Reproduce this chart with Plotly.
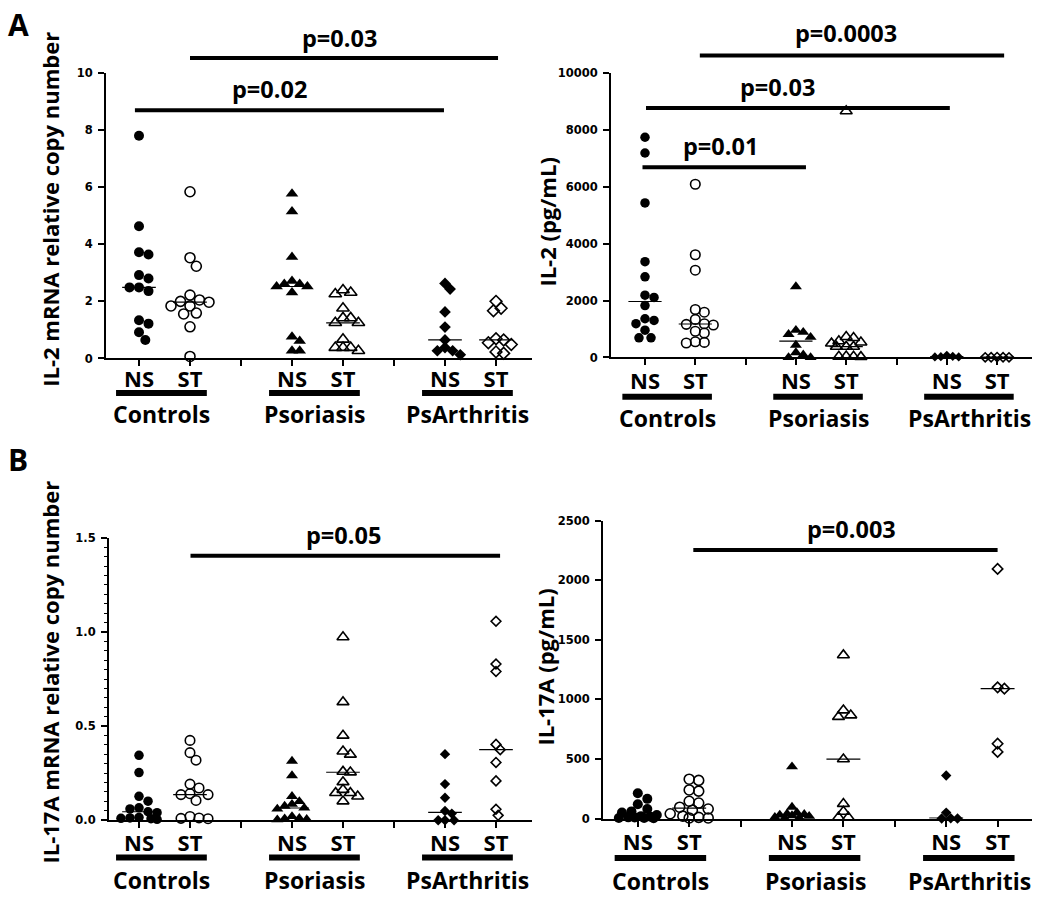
import numpy as np
import plotly.graph_objects as go

W, H = 1050, 904

# ---------------- data ----------------
groups = ["Controls", "Psoriasis", "PsArthritis"]
conditions = ["NS", "ST"]
tick_text = ["NS", "ST", "", "NS", "ST", "", "NS", "ST"]

# Panel A left: IL-2 mRNA relative copy number
il2_mrna_ctrl_ns = [7.8, 4.63, 3.72, 3.64, 2.92, 2.80, 2.49, 2.49, 2.36, 1.34, 1.22, 0.92, 0.65]
il2_mrna_ctrl_st = [5.84, 3.53, 3.23, 2.22, 2.05, 2.00, 1.97, 1.84, 1.84, 1.59, 1.56, 1.11, 0.07]
il2_mrna_pso_ns = [5.77, 5.15, 3.55, 2.71, 2.61, 2.61, 2.52, 2.52, 2.31, 0.76, 0.61, 0.27, 0.27]
il2_mrna_pso_st = [2.40, 2.31, 2.26, 1.76, 1.42, 1.42, 1.25, 1.25, 0.67, 0.38, 0.38, 0.38, 0.27]
il2_mrna_psa_ns = [2.63, 2.43, 1.63, 1.10, 0.65, 0.38, 0.27, 0.27, 0.13]
il2_mrna_psa_st = [2.00, 1.76, 1.67, 0.69, 0.65, 0.55, 0.49, 0.23, 0.18]

# Panel A right: IL-2 (pg/mL)
il2_pg_ctrl_ns = [7733, 7180, 5427, 3364, 2834, 2189, 2109, 1821, 1360, 1303, 1186, 957, 691, 691]
il2_pg_ctrl_st = [6084, 3606, 3065, 1683, 1590, 1337, 1186, 1164, 1140, 922, 860, 553, 530, 510]
il2_pg_pso_ns = [2489, 960, 890, 815, 715, 438, 173, 92, 0, 0]
il2_pg_pso_st = [8650, 726, 691, 577, 530, 494, 380, 380, 380, 40, 30, 30, 20]
il2_pg_psa_ns = [80, 40, 30, 20, 20]
il2_pg_psa_st = [15, 10, 10, 5, 5]

# Panel B left: IL-17A mRNA relative copy number
il17_mrna_ctrl_ns = [0.345, 0.253, 0.127, 0.101, 0.066, 0.060, 0.045, 0.040, 0.015, 0.012, 0.010, 0.008, 0.005]
il17_mrna_ctrl_st = [0.424, 0.359, 0.319, 0.192, 0.171, 0.141, 0.136, 0.136, 0.105, 0.020, 0.012, 0.010, 0.008]
il17_mrna_pso_ns = [0.314, 0.237, 0.127, 0.100, 0.085, 0.075, 0.065, 0.060, 0.020, 0.010, 0.008, 0.005, 0.003]
il17_mrna_pso_st = [0.973, 0.628, 0.450, 0.366, 0.349, 0.258, 0.255, 0.203, 0.162, 0.145, 0.145, 0.127, 0.101]
il17_mrna_psa_ns = [0.351, 0.192, 0.119, 0.049, 0.035, 0.0, 0.0, 0.0]
il17_mrna_psa_st = [1.057, 0.830, 0.790, 0.403, 0.375, 0.307, 0.209, 0.058, 0.026]

# Panel B right: IL-17A (pg/mL)
il17_pg_ctrl_ns = [212, 165, 120, 80, 60, 50, 30, 20, 15, 10, 8, 5, 5, 3]
il17_pg_ctrl_st = [330, 320, 240, 230, 145, 130, 95, 80, 70, 40, 20, 10, 5, 5]
il17_pg_pso_ns = [435, 96, 50, 40, 35, 30, 25, 20, 10, 5, 3]
il17_pg_pso_st = [1371, 909, 867, 854, 498, 124, 58, 10, 10]
il17_pg_psa_ns = [361, 50, 3, 0, 0]
il17_pg_psa_st = [2095, 1101, 1090, 628, 559]

# significance brackets: (from slot, to slot, label)
sig_a_left = [(1, 7, "p=0.03"), (0, 6, "p=0.02")]
sig_a_right = [(1, 7, "p=0.0003"), (0, 6, "p=0.03"), (0, 3, "p=0.01")]
sig_b_left = [(1, 7, "p=0.05")]
sig_b_right = [(1, 7, "p=0.003")]

# ---------------- layout geometry (pixels) ----------------
FONT = "Open Sans"
TICKFONT = "DejaVu Sans"

panels = [
    dict(name="A-left", data=[il2_mrna_ctrl_ns, il2_mrna_ctrl_st, il2_mrna_pso_ns, il2_mrna_pso_st, il2_mrna_psa_ns, il2_mrna_psa_st],
         left=106, right=532, slot0=139, step=51, bottom=357, top=67, yr=[0, 10], ytv=[0, 2, 4, 6, 8, 10], ytt=None,
         title="IL-2 mRNA relative copy number", title_xy=(50, 206), sizes=(10, 10, 11, 11, 9, 9),
         sig=sig_a_left, sig_line=[1.052, 0.869], sig_text=[1.124, 0.945], sig_tx=[3.93, 2.56],
         sig_ext=[(0.0, 0.04), (-0.08, -0.02)], ns_standoff=-6,
         bar_off=35, grp_off=56, minor=None),
    dict(name="A-right", data=[il2_pg_ctrl_ns, il2_pg_ctrl_st, il2_pg_pso_ns, il2_pg_pso_st, il2_pg_psa_ns, il2_pg_psa_st],
         left=611, right=1032, slot0=645, step=50.3, bottom=356, top=66.7, yr=[0, 10000], ytv=[0, 2000, 4000, 6000, 8000, 10000], ytt=None,
         title="IL-2 (pg/mL)", title_xy=(547, 219), sizes=(9.5, 9.5, 10.5, 10.5, 7, 7),
         sig=sig_a_right, sig_line=[1.060, 0.8756, 0.668], sig_text=[1.138, 0.9506, 0.744], sig_tx=[3.99, 2.64, 1.51],
         sig_ext=[(0.09, 0.14), (0.02, 0.06), (-0.05, 0.2)], ns_standoff=-3,
         bar_off=40, grp_off=61, minor=None),
    dict(name="B-left", data=[il17_mrna_ctrl_ns, il17_mrna_ctrl_st, il17_mrna_pso_ns, il17_mrna_pso_st, il17_mrna_psa_ns, il17_mrna_psa_st],
         left=109, right=532, slot0=139, step=51, bottom=826, top=539.3, yr=[0, 1.5], ytv=[0, 0.5, 1.0, 1.5], ytt=["0.0", "0.5", "1.0", "1.5"],
         title="IL-17A mRNA relative copy number", title_xy=(50, 676), sizes=(9.5, 9.5, 10.5, 10.5, 8, 7.5),
         sig=sig_b_left, sig_line=[0.937], sig_text=[1.011], sig_tx=[4.0],
         sig_ext=[(0.01, 0.08)], ns_standoff=-4,
         bar_off=38, grp_off=61, minor=0.05),
    dict(name="B-right", data=[il17_pg_ctrl_ns, il17_pg_ctrl_st, il17_pg_pso_ns, il17_pg_pso_st, il17_pg_psa_ns, il17_pg_psa_st],
         left=603, right=1032, slot0=637.8, step=51.4, bottom=824.3, top=521.7, yr=[0, 2500], ytv=[0, 500, 1000, 1500, 2000, 2500], ytt=None,
         title="IL-17A (pg/mL)", title_xy=(545, 671), sizes=(10, 10, 10.5, 10.5, 8, 8),
         sig=sig_b_right, sig_line=[0.901], sig_text=[0.9726], sig_tx=[4.15],
         sig_ext=[(0.08, 0.0)], ns_standoff=-3,
         bar_off=40, grp_off=63, minor=None),
]

symbols = ["circle", "circle-open", "triangle-up", "triangle-up-open", "diamond", "diamond-open"]
slots = [0, 1, 3, 4, 6, 7]
overlap = {"circle": 0.95, "triangle-up": 0.7, "diamond": 0.85}


def swarm(values, d, ppu, pps, maxw=0.38):
    """beeswarm offsets (in slot units) computed in pixel space"""
    ys = np.asarray(values, float) * ppu
    order = np.argsort(-ys, kind="stable")
    placed = []
    offs = np.zeros(len(ys))
    st = d / 3.0
    maxpx = maxw * pps
    cands = [0.0]
    k = 1
    while k * st <= maxpx:
        cands += [k * st, -k * st]
        k += 1
    for i in order:
        y = ys[i]
        best = None
        bestc, bests = 0.0, -1
        for c in cands:
            md = min([np.hypot(c - px, y - py) for px, py in placed], default=1e9)
            if md >= d:
                best = c
                break
            if md > bests:
                bests, bestc = md, c
        if best is None:
            best = bestc
        offs[i] = best / pps
        placed.append((best, y))
    return offs


def py(p):
    return 1 - p / H


fig = go.Figure()
shapes = []
annotations = []
layout = {}

for idx, P in enumerate(panels):
    n = "" if idx == 0 else str(idx + 1)
    xa, ya = "x" + n, "y" + n
    xr = [(P["left"] - P["slot0"]) / P["step"], (P["right"] - P["slot0"]) / P["step"]]
    ppu = (P["bottom"] - P["top"]) / (P["yr"][1] - P["yr"][0])
    for gi, vals in enumerate(P["data"]):
        sym = symbols[gi]
        base = sym.replace("-open", "")
        size = P["sizes"][gi]
        offs = swarm(vals, size * overlap[base], ppu, P["step"])
        is_open = sym.endswith("-open")
        fig.add_trace(go.Scatter(
            x=slots[gi] + offs, y=vals, mode="markers", xaxis=xa, yaxis=ya,
            cliponaxis=False, showlegend=False, hoverinfo="y",
            marker=dict(symbol=sym, size=size, color="black",
                        line=dict(color="black", width=1.6 if is_open else 0)),
        ))
    # medians
    mx, my = [], []
    for gi, vals in enumerate(P["data"]):
        m = float(np.median(vals))
        mx += [slots[gi] - 0.33, slots[gi] + 0.33, None]
        my += [m, m, None]
    fig.add_trace(go.Scatter(x=mx, y=my, mode="lines", xaxis=xa, yaxis=ya, cliponaxis=False,
                             showlegend=False, hoverinfo="skip", line=dict(color="black", width=1.2)))

    layout["xaxis" + n] = dict(
        domain=[P["left"] / W, P["right"] / W], range=xr, anchor=ya,
        showline=True, linewidth=2, linecolor="black", showgrid=False, zeroline=False,
        ticks="outside", ticklen=6, tickwidth=2, tickcolor="black",
        tickmode="array", tickvals=list(range(8)), ticktext=tick_text,
        tickfont=dict(family=FONT, size=22, color="black", weight="bold"),
        ticklabelstandoff=P["ns_standoff"], fixedrange=True,
    )
    yax = dict(
        domain=[py(P["bottom"]), py(P["top"])], range=P["yr"], anchor=xa,
        showline=True, linewidth=2, linecolor="black", showgrid=False, zeroline=False,
        ticks="outside", ticklen=6, tickwidth=1.5, tickcolor="black",
        tickmode="array", tickvals=P["ytv"], tickformat="d",
        tickfont=dict(family=TICKFONT, size=11.5, color="black", weight="bold"),
        ticklabelstandoff=3, fixedrange=True,
    )
    if P["ytt"]:
        yax["ticktext"] = P["ytt"]
    if P["minor"]:
        yax["minor"] = dict(ticks="outside", ticklen=3, tickwidth=1, tickcolor="black",
                            tickvals=[round(v, 3) for v in np.arange(0, 1.5001, P["minor"])])
    layout["yaxis" + n] = yax

    # significance brackets
    for (a, b, lab), yl, yt, tx, ext in zip(P["sig"], P["sig_line"], P["sig_text"], P["sig_tx"], P["sig_ext"]):
        shapes.append(dict(type="line", xref=xa, yref=ya + " domain", x0=a + ext[0], x1=b + ext[1], y0=yl, y1=yl,
                           line=dict(color="black", width=4)))
        annotations.append(dict(text=lab, xref=xa, yref=ya + " domain", x=tx, y=yt, showarrow=False,
                                xanchor="center", yanchor="middle",
                                font=dict(family=FONT, size=23.5, color="black", weight="bold")))
    # group bars + group labels
    for g in range(3):
        yb = py(P["bottom"] + P["bar_off"])
        shapes.append(dict(type="line", xref=xa, yref="paper", x0=g * 3 - 0.45, x1=g * 3 + 1.33, y0=yb, y1=yb,
                           line=dict(color="black", width=6)))
        annotations.append(dict(text=groups[g], xref=xa, yref="paper", x=g * 3 + 0.45,
                                y=py(P["bottom"] + P["grp_off"]), showarrow=False, xanchor="center", yanchor="middle",
                                font=dict(family=FONT, size=23, color="black", weight="bold")))
    # y title
    tx, ty = P["title_xy"]
    annotations.append(dict(text=P["title"], xref="paper", yref="paper", x=tx / W, y=py(ty), textangle=-90,
                            showarrow=False, xanchor="center", yanchor="middle",
                            font=dict(family=FONT, size=22, color="black", weight="bold")))

# panel letters
annotations.append(dict(text="A", xref="paper", yref="paper", x=18 / W, y=py(18), showarrow=False,
                        xanchor="center", yanchor="middle", font=dict(family=FONT, size=30, color="black", weight="bold")))
annotations.append(dict(text="B", xref="paper", yref="paper", x=18 / W, y=py(460), showarrow=False,
                        xanchor="center", yanchor="middle", font=dict(family=FONT, size=30, color="black", weight="bold")))

fig.update_layout(
    width=W, height=H, margin=dict(l=0, r=0, t=0, b=0),
    paper_bgcolor="white", plot_bgcolor="white",
    shapes=shapes, annotations=annotations, **layout,
)

fig.write_html("out.html", config={"displayModeBar": False},
               post_script="document.body.style.margin='0';document.body.style.overflow='hidden';")
